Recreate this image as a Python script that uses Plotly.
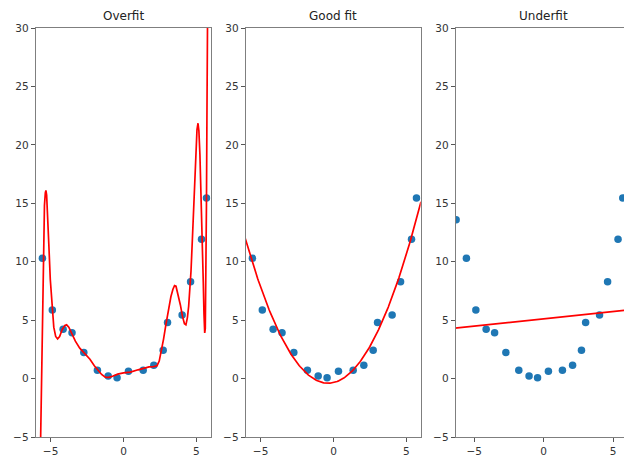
import numpy as np
import plotly.graph_objects as go

# ---- data ----
x_data = [-6.30, -5.56, -4.88, -4.14, -3.53, -2.72, -1.79, -1.05, -0.44,
          0.34, 1.35, 2.08, 2.72, 3.02, 4.02, 4.60, 5.35, 5.69]
y_data = [13.6, 10.29, 5.86, 4.21, 3.92, 2.24, 0.72, 0.21, 0.06,
          0.63, 0.72, 1.15, 2.43, 4.80, 5.43, 8.29, 11.92, 15.46]

# overfit curve (high-degree polynomial)
overfit_x = [-5.72, -5.68, -5.62, -5.55, -5.48, -5.42, -5.36, -5.32, -5.27, -5.20,
             -5.12, -5.02, -4.90, -4.78, -4.65, -4.52, -4.38, -4.20, -4.02, -3.90,
             -3.75, -3.55, -3.30, -3.00, -2.73, -2.50, -2.30, -2.00, -1.77, -1.50,
             -1.25, -1.00, -0.75, -0.40, 0.00, 0.47, 1.00, 1.38, 1.75, 2.07,
             2.30, 2.45, 2.60, 2.75, 2.92, 3.09, 3.25, 3.39, 3.50, 3.60,
             3.75, 3.90, 4.05, 4.18, 4.28, 4.38, 4.47, 4.55, 4.63, 4.72,
             4.80, 4.88, 4.96, 5.04, 5.11, 5.17, 5.24, 5.32, 5.40, 5.47,
             5.52, 5.57, 5.61, 5.65, 5.69, 5.72, 5.76, 5.80]
overfit_y = [-8.0, -5.0, 1.0, 7.0, 12.0, 14.8, 15.9, 16.1, 15.7, 14.2,
             11.5, 8.5, 6.0, 4.4, 3.6, 3.4, 3.6, 4.2, 4.55, 4.6,
             4.4, 3.9, 3.2, 2.6, 2.25, 1.95, 1.65, 1.1, 0.72, 0.35,
             0.12, 0.10, 0.20, 0.38, 0.48, 0.55, 0.75, 0.90, 1.00, 1.02,
             1.10, 1.50, 2.40, 3.40, 4.70, 5.90, 7.00, 7.65, 7.95, 7.90,
             7.20, 6.30, 5.30, 4.70, 4.60, 5.20, 6.20, 7.60, 9.20, 11.8,
             14.6, 17.3, 19.8, 21.3, 21.85, 21.2, 19.2, 16.0, 12.2, 8.3,
             5.5, 3.9, 4.3, 8.0, 15.0, 22.0, 30.0, 38.0]

titles = ["Overfit", "Good fit", "Underfit"]
y_ticks = [-5, 0, 5, 10, 15, 20, 25, 30]
x_ticks = [-5, 0, 5]

def lab(v):
    return ("\u2212" + str(abs(v))) if v < 0 else str(v)

# fits
xd = np.array(x_data)
yd = np.array(y_data)
good_coef = np.polyfit(xd, yd, 2)
under_coef = np.polyfit(xd, yd, 1)
xs_good = np.linspace(-6.05, 6.0, 200)
xs_under = np.linspace(-6.4, 6.4, 50)

W, H = 624, 459
domains = [(35.7 / W, 210.7 / W), (245.7 / W, 420.7 / W), (455.7 / W, 1.0)]
x_ranges = [[-6.02, 5.98], [-6.02, 5.98], [-6.33, 5.78]]

fig = go.Figure()
blue = "#1f77b4"
red = "#ff0000"

curves = [
    (overfit_x, overfit_y),
    (xs_good, np.polyval(good_coef, xs_good)),
    (xs_under, np.polyval(under_coef, xs_under)),
]

for i in range(3):
    xa = "x" if i == 0 else f"x{i+1}"
    ya = "y" if i == 0 else f"y{i+1}"
    fig.add_trace(go.Scatter(x=x_data, y=y_data, mode="markers",
                             marker=dict(color=blue, size=7.5, line=dict(width=0)),
                             xaxis=xa, yaxis=ya, showlegend=False))
    cx, cy = curves[i]
    fig.add_trace(go.Scatter(x=cx, y=cy, mode="lines",
                             line=dict(color=red, width=1.7),
                             xaxis=xa, yaxis=ya, showlegend=False))

axis_common = dict(showgrid=False, zeroline=False, showline=True,
                   linecolor="#7f7f7f", linewidth=1, ticks="outside",
                   ticklen=4, tickwidth=1, tickcolor="#555",
                   tickfont=dict(family="DejaVu Sans", size=10.5, color="#333"))

layout = dict(width=W, height=H, plot_bgcolor="white", paper_bgcolor="white",
              margin=dict(l=0, r=0, t=28, b=22), showlegend=False)

annotations = []
for i in range(3):
    xk = "xaxis" if i == 0 else f"xaxis{i+1}"
    yk = "yaxis" if i == 0 else f"yaxis{i+1}"
    yname = "y" if i == 0 else f"y{i+1}"
    xname = "x" if i == 0 else f"x{i+1}"
    layout[xk] = dict(axis_common, domain=list(domains[i]), range=x_ranges[i],
                      anchor=yname, mirror=True,
                      tickvals=x_ticks, ticktext=[lab(v) for v in x_ticks])
    layout[yk] = dict(axis_common, domain=[0, 1], range=[-5, 30],
                      anchor=xname, mirror=(i < 2),
                      tickvals=y_ticks, ticktext=[lab(v) for v in y_ticks])
    annotations.append(dict(text=titles[i], xref="paper", yref="paper",
                            x=domains[i][0] + 87.5 / W, xanchor="center",
                            y=1, yanchor="bottom", yshift=3, showarrow=False,
                            font=dict(family="DejaVu Sans", size=12, color="#222")))
layout["annotations"] = annotations

fig.update_layout(**layout)
fig.write_html("out.html", config={"displayModeBar": False},
               post_script="document.body.style.margin='0px';document.body.style.overflow='hidden';")
